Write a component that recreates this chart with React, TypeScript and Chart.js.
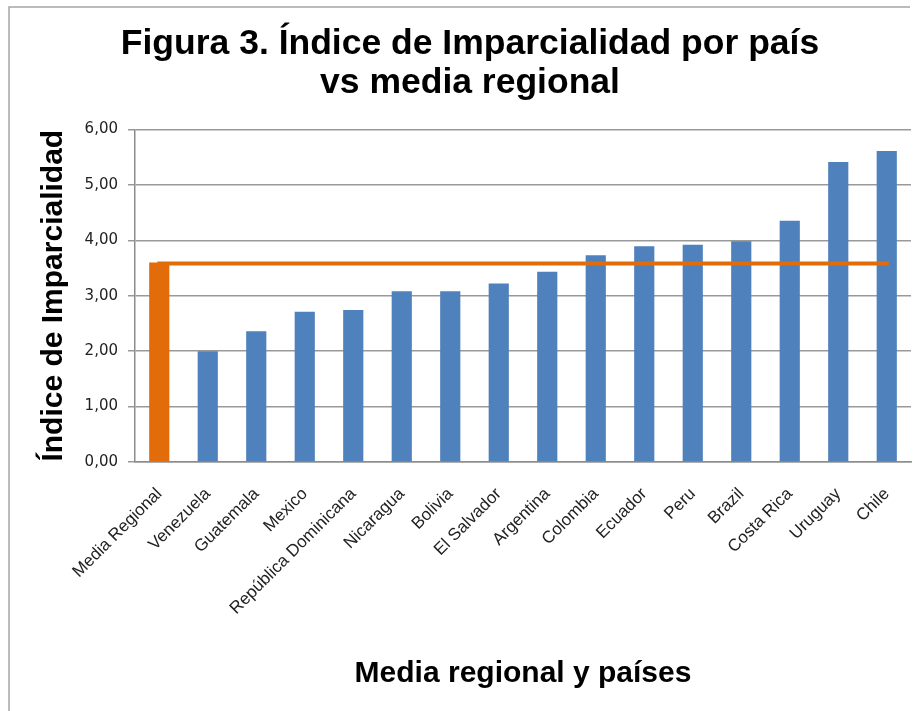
import React, { useEffect, useRef } from "react";
import { Chart, registerables } from "chart.js";

Chart.register(...registerables);

const categories = [
  "Media Regional",
  "Venezuela",
  "Guatemala",
  "Mexico",
  "República Dominicana",
  "Nicaragua",
  "Bolivia",
  "El Salvador",
  "Argentina",
  "Colombia",
  "Ecuador",
  "Peru",
  "Brazil",
  "Costa Rica",
  "Uruguay",
  "Chile",
];

const indexValues = [3.6, 2.0, 2.36, 2.71, 2.74, 3.08, 3.08, 3.22, 3.43, 3.73, 3.89, 3.92, 3.98, 4.35, 5.41, 5.61];

const regionalMeanLine = [3.58, 3.58, 3.58, 3.58, 3.58, 3.58, 3.58, 3.58, 3.58, 3.58, 3.58, 3.58, 3.58, 3.58, 3.58, 3.58];

const yTicks = [0, 1, 2, 3, 4, 5, 6];

const titleLines = ["Figura 3. Índice de Imparcialidad por país", "vs media regional"];
const yTitle = "Índice de Imparcialidad";
const xTitle = "Media regional y países";

const ORANGE = "#E36C0A";
const BLUE = "#4F81BD";

const framePlugin = {
  id: "frame",
  beforeDraw(chart: any) {
    const ctx = chart.ctx;
    ctx.save();
    ctx.fillStyle = "#ffffff";
    ctx.fillRect(0, 0, chart.width, chart.height);
    ctx.strokeStyle = "#a5a5a5";
    ctx.lineWidth = 1.5;
    ctx.beginPath();
    ctx.moveTo(9, chart.height);
    ctx.lineTo(9, 7);
    ctx.lineTo(910, 7);
    ctx.stroke();
    ctx.restore();
  },
};

export default function App() {
  const ref = useRef<HTMLCanvasElement | null>(null);

  useEffect(() => {
    document.body.style.margin = "0";
    const canvas = ref.current;
    if (!canvas) return;
    const chart = new Chart(canvas, {
      type: "bar",
      data: {
        labels: categories,
        datasets: [
          {
            type: "line",
            label: "Media regional",
            data: regionalMeanLine,
            borderColor: ORANGE,
            borderWidth: 4,
            pointRadius: 0,
            borderCapStyle: "square",
            fill: false,
            order: 0,
          } as any,
          {
            type: "bar",
            label: "Índice",
            data: indexValues,
            backgroundColor: categories.map((_, i) => (i === 0 ? ORANGE : BLUE)),
            borderWidth: 0,
            categoryPercentage: 0.8,
            barPercentage: 0.52,
            order: 1,
          } as any,
        ],
      },
      plugins: [framePlugin],
      options: {
        responsive: false,
        animation: false,
        layout: { padding: { left: 29, right: 9, top: 0, bottom: 0 } },
        plugins: {
          legend: { display: false },
          tooltip: { enabled: false },
          title: {
            display: true,
            text: titleLines,
            color: "#000",
            font: { family: "'Liberation Sans', Arial, sans-serif", size: 35.5, weight: "bold", lineHeight: 1.09 },
            padding: { top: 25, bottom: 27 },
          },
        },
        scales: {
          x: {
            afterFit(scale: any) {
              scale.height = 249;
              scale.paddingRight = 0;
              scale.paddingLeft = 0;
            },
            grid: { display: false, drawTicks: false },
            border: { display: true, color: "#8c8c8c", width: 1.5 },
            ticks: {
              autoSkip: false,
              maxRotation: 45,
              minRotation: 45,
              padding: 22,
              color: "#222",
              font: { family: "'Liberation Sans', Arial, sans-serif", size: 17 },
            },
            title: {
              display: true,
              text: xTitle,
              color: "#000",
              font: { family: "'Liberation Sans', Arial, sans-serif", size: 30, weight: "bold", lineHeight: 1.2 },
              padding: { bottom: 19, top: 0 },
            },
          },
          y: {
            min: 0,
            max: 6,
            afterFit(scale: any) {
              scale.width = 106;
            },
            afterBuildTicks(scale: any) {
              scale.ticks = yTicks.map((v) => ({ value: v }));
            },
            grid: { color: "#999999", lineWidth: 1.5, drawTicks: true, tickLength: 7, tickColor: "#999999" },
            border: { display: true, color: "#8c8c8c", width: 1.5 },
            ticks: {
              padding: 10,
              color: "#222",
              font: { family: "'DejaVu Sans', Verdana, sans-serif", size: 15 },
              callback: (v: any) => Number(v).toFixed(2).replace(".", ","),
            },
            title: {
              display: true,
              text: yTitle,
              color: "#000",
              font: { family: "'Liberation Sans', Arial, sans-serif", size: 30, weight: "bold", lineHeight: 1.2 },
              padding: { top: 7, bottom: 0 },
            },
          },
        },
      } as any,
    });
    return () => chart.destroy();
  }, []);

  return <canvas ref={ref} width={920} height={711} style={{ display: "block" }} />;
}
